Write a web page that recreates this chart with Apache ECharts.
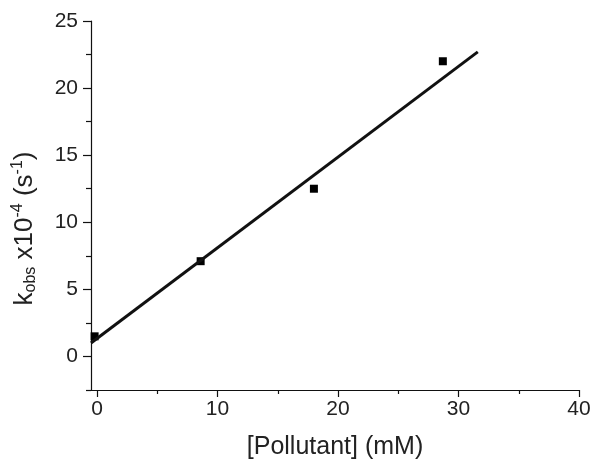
<!DOCTYPE html>
<html><head><meta charset="utf-8">
<script src="https://cdn.jsdelivr.net/npm/echarts@6/dist/echarts.min.js"></script>
<style>html,body{margin:0;padding:0;background:#fff}#c{width:591px;height:462px}</style>
</head><body><div id="c"></div>
<script>
var pollutant = [-0.2, 8.6, 18.0, 28.7];
var kobs = [1.5, 7.1, 12.5, 22.0];
var fitX = [-0.5, 31.6];
var fitY = [1.0, 22.7];
var xMajorTicks = [0, 10, 20, 30, 40];
var xMinorTicks = [5, 15, 25, 35];
var yMajorTicks = [0, 5, 10, 15, 20, 25];
var yMinorTicks = [-2.5, 2.5, 7.5, 12.5, 17.5, 22.5];

var FONT = 'Liberation Sans, Arial, sans-serif';
var INK = '#111';
var TXT = '#222';
var chart = echarts.init(document.getElementById('c'), null, {renderer: 'canvas'});
var xBase = {type: 'value', min: -0.5, max: 40, splitLine: {show: false}};
var yBase = {type: 'value', min: -2.5, max: 25, splitLine: {show: false}};
chart.setOption({
  animation: false,
  backgroundColor: '#fff',
  grid: {left: 91, right: 12, top: 21, bottom: 72, containLabel: false, outerBoundsMode: 'none'},
  xAxis: [
    Object.assign({}, xBase, {
      position: 'bottom',
      axisLine: {show: true, onZero: false, lineStyle: {color: INK, width: 1.2}},
      axisTick: {show: true, inside: false, length: 7, customValues: xMajorTicks, lineStyle: {color: INK, width: 1.2}},
      axisLabel: {show: true, customValues: xMajorTicks, margin: 9, fontSize: 21, color: TXT, fontFamily: FONT},
      name: '[Pollutant] (mM)', nameLocation: 'middle', nameGap: 45,
      nameTextStyle: {fontSize: 25, color: TXT, fontFamily: FONT}
    }),
    Object.assign({}, xBase, {
      position: 'bottom',
      axisLine: {show: false, onZero: false},
      axisTick: {show: true, inside: false, length: 4, customValues: xMinorTicks, lineStyle: {color: INK, width: 1.2}},
      axisLabel: {show: false}
    })
  ],
  yAxis: [
    Object.assign({}, yBase, {
      position: 'left',
      axisLine: {show: true, onZero: false, lineStyle: {color: INK, width: 1.2}},
      axisTick: {show: true, inside: false, length: 8, customValues: yMajorTicks, lineStyle: {color: INK, width: 1.2}},
      axisLabel: {show: true, customValues: yMajorTicks, margin: 13, fontSize: 21, color: TXT, fontFamily: FONT},
      name: '{a|k}{s|obs}{a| x10}{p|-4}{a| (s}{p|-1}{a|)}',
      nameLocation: 'middle', nameGap: 52, nameRotate: 90,
      nameTextStyle: {
        color: TXT, fontFamily: FONT, padding: [0, 46, 0, 0],
        rich: {
          a: {fontSize: 26, color: TXT, fontFamily: FONT},
          s: {fontSize: 16, color: TXT, fontFamily: FONT, verticalAlign: 'bottom', padding: [13, 0, 0, 0]},
          p: {fontSize: 16, color: TXT, fontFamily: FONT, verticalAlign: 'top', padding: [0, 0, 13, 0]}
        }
      }
    }),
    Object.assign({}, yBase, {
      position: 'left',
      axisLine: {show: false, onZero: false},
      axisTick: {show: true, inside: false, length: 5, customValues: yMinorTicks, lineStyle: {color: INK, width: 1.2}},
      axisLabel: {show: false}
    })
  ],
  series: [
    {
      type: 'line', xAxisIndex: 0, yAxisIndex: 0,
      data: fitX.map(function (x, i) { return [x, fitY[i]]; }),
      showSymbol: false, symbol: 'none',
      lineStyle: {color: INK, width: 3}
    },
    {
      type: 'scatter', xAxisIndex: 0, yAxisIndex: 0,
      data: pollutant.map(function (x, i) { return [x, kobs[i]]; }),
      symbol: 'rect', symbolSize: 8,
      itemStyle: {color: '#000', opacity: 1}
    }
  ]
});
</script></body></html>
